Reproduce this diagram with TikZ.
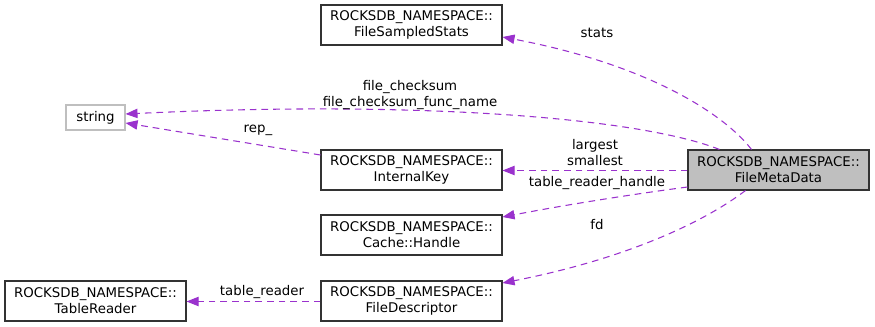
\documentclass[tikz,border=0pt]{standalone}
\usepackage{fontspec}
\setmainfont{DejaVu Sans}
\usetikzlibrary{arrows.meta}
\definecolor{edgepurple}{HTML}{9A32CD}
\definecolor{metagray}{HTML}{BFBFBF}
\definecolor{boxline}{HTML}{333333}
\tikzset{
  classbox/.style={draw=boxline, line width=0.8pt, fill=white, minimum width=181*0.75pt,
    minimum height=40*0.75pt, align=center, inner sep=0pt,
    font=\fontsize{10pt}{12pt}\selectfont},
  extbox/.style={draw=metagray, line width=0.8pt, fill=white, minimum width=59*0.75pt,
    minimum height=25*0.75pt, align=center, inner sep=0pt,
    font=\fontsize{10pt}{12pt}\selectfont},
  member/.style={draw=edgepurple, line width=0.8pt, dash pattern=on 5pt off 3.75pt,
    -{Triangle[length=9pt,width=7pt,fill=edgepurple]}},
  elabel/.style={align=center, inner sep=0pt, font=\fontsize{10pt}{12pt}\selectfont}
}
\begin{document}
\begin{tikzpicture}[x=0.75pt, y=-0.75pt]
  \useasboundingbox (0,0) rectangle (875,327);

  % classes
  \node[classbox] (stats) at (411.5,25) {ROCKSDB\_NAMESPACE::\\FileSampledStats};
  \node[extbox] (str) at (95.5,117.5) {string};
  \node[classbox] (ikey) at (411.5,170) {ROCKSDB\_NAMESPACE::\\InternalKey};
  \node[classbox, fill=metagray] (meta) at (778.5,170) {ROCKSDB\_NAMESPACE::\\FileMetaData};
  \node[classbox] (handle) at (411.5,235) {ROCKSDB\_NAMESPACE::\\Cache::Handle};
  \node[classbox] (fdesc) at (411.5,301) {ROCKSDB\_NAMESPACE::\\FileDescriptor};
  \node[classbox] (treader) at (95.5,301) {ROCKSDB\_NAMESPACE::\\TableReader};

  % member relations
  \draw[member] (meta.north) ++(-27,0) .. controls (725,115) and (650,65) .. (stats.east |- 0,37);
  \draw[member] (meta.north) ++(-59,0) .. controls (640,118) and (420,100) .. (str.east |- 0,114);
  \draw[member] (ikey.west |- 0,155) -- (str.east |- 0,123);
  \draw[member] (meta.west |- 0,170.5) -- (ikey.east |- 0,170.5);
  \draw[member] (meta.west |- 0,187) .. controls (620,196) and (560,206) .. (handle.east |- 0,217);
  \draw[member] (meta.south) ++(-33,0) .. controls (700,225) and (620,260) .. (fdesc.east |- 0,283);
  \draw[member] (fdesc.west |- 0,301.5) -- (treader.east |- 0,301.5);

  % labels
  \node[elabel] (lstats) at (597,33) {stats};
  \node[elabel] (lcheck) at (410,95) {file\_checksum\\file\_checksum\_func\_name};
  \node[elabel] (lrep) at (258,130) {rep\_};
  \node[elabel] (lkey) at (595,153) {largest\\smallest};
  \node[elabel] (lhandle) at (597,183) {table\_reader\_handle};
  \node[elabel] (lfd) at (597,225) {fd};
  \node[elabel] (ltr) at (262,292) {table\_reader};
\end{tikzpicture}
\end{document}
